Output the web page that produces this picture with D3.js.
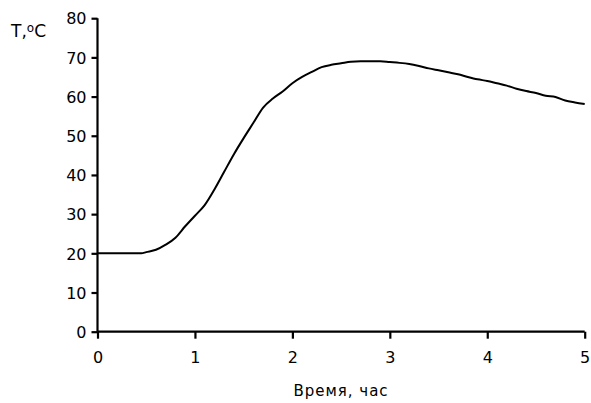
<!DOCTYPE html>
<html><head><meta charset="utf-8">
<script src="https://cdn.jsdelivr.net/npm/d3@7"></script>
<style>
body{margin:0;background:#fff;}
text{font-family:"DejaVu Sans",sans-serif;fill:#000;}
</style></head>
<body>
<svg id="chart" width="591" height="403"></svg>
<script>
const timeHours = [0,0.1,0.2,0.3,0.4,0.45,0.5,0.6,0.7,0.8,0.9,1.0,1.1,1.2,1.3,1.4,1.5,1.6,1.7,1.8,1.9,2.0,2.1,2.2,2.3,2.4,2.5,2.6,2.7,2.8,2.9,3.0,3.1,3.2,3.3,3.4,3.5,3.6,3.7,3.8,3.9,4.0,4.1,4.2,4.3,4.4,4.5,4.6,4.7,4.8,4.9,5.0];
const temperature = [20,20,20,20,20,20,20.3,20.9,22.2,24.0,26.9,29.6,32.3,36.3,40.8,45.3,49.4,53.3,57.2,59.5,61.3,63.4,65.0,66.3,67.5,68.1,68.5,68.9,69.0,69.0,69.0,68.8,68.6,68.3,67.8,67.2,66.7,66.2,65.7,65.0,64.4,64.0,63.4,62.8,62.0,61.4,60.9,60.2,59.9,59.0,58.5,58.1];
const xTicks = [0,1,2,3,4,5];
const yTicks = [0,10,20,30,40,50,60,70,80];
const xTitle = "Время, час";

const svg = d3.select("#chart");
const x = d3.scaleLinear().domain([0,5]).range([97.5,584.7]);
const y = d3.scaleLinear().domain([0,80]).range([331.7,18.2]);

// y axis
const ya = svg.append("g").attr("transform","translate(97.5,0)")
  .call(d3.axisLeft(y).tickValues(yTicks).tickSize(6).tickPadding(5).tickFormat(d3.format("d")));
ya.select(".domain").attr("stroke","#000").attr("stroke-width",2.2).attr("d","M0,331.7V18.2");
ya.selectAll(".tick line").attr("stroke","#000").attr("stroke-width",2.2);
ya.selectAll(".tick text").attr("font-size",16).attr("font-family","DejaVu Sans").attr("dy","0.36em");

// x axis
const xa = svg.append("g").attr("transform","translate(0,331.7)")
  .call(d3.axisBottom(x).tickValues(xTicks).tickSize(7).tickPadding(13).tickFormat(d3.format("d")));
xa.select(".domain").attr("stroke","#000").attr("stroke-width",2.2).attr("d","M97.5,0H584.7");
xa.selectAll(".tick line").attr("stroke","#000").attr("stroke-width",2.2);
xa.selectAll(".tick text").attr("font-size",16).attr("font-family","DejaVu Sans");

// curve
const data = timeHours.map((t,i)=>[t,temperature[i]]);
svg.append("path").datum(data)
  .attr("fill","none").attr("stroke","#000").attr("stroke-width",2)
  .attr("stroke-linejoin","round")
  .attr("d", d3.line().x(d=>x(d[0])).y(d=>y(d[1])).curve(d3.curveMonotoneX));

// axis titles
const yt = svg.append("text").attr("x",11).attr("y",37).attr("font-size",17);
yt.append("tspan").text("T,");
yt.append("tspan").attr("dy",-5).attr("font-size",12).text("o");
yt.append("tspan").attr("dy",5).text("C");

svg.append("text").attr("x",341).attr("y",396).attr("text-anchor","middle")
  .attr("font-size",15).attr("letter-spacing",1).text(xTitle);
</script>
</body></html>
